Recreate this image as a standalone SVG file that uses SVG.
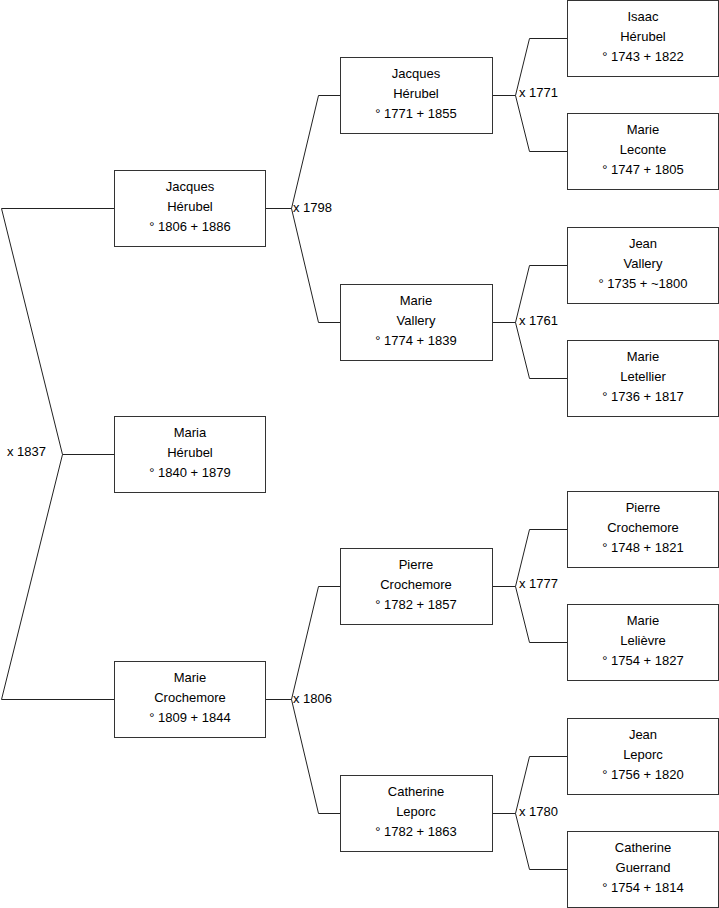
<svg xmlns="http://www.w3.org/2000/svg" width="719" height="908" viewBox="0 0 719 908">
<style>
.box{fill:#fff;stroke:#333;stroke-width:1}
.t{font-family:"Liberation Sans",Arial,sans-serif;font-size:13px;fill:#000;text-anchor:middle}
.lb{font-family:"Liberation Sans",Arial,sans-serif;font-size:13px;fill:#000}
.ln{fill:none;stroke:#222;stroke-width:1}
</style>
<rect width="719" height="908" fill="#fff"/>
<g id="connectors">
<polyline class="ln" points="114.5,208.5 1.5,208.5 62.5,454.5 1.5,699.5 114.5,699.5"/>
<line class="ln" x1="62.5" y1="454.5" x2="114.5" y2="454.5"/>
<text class="lb" x="7" y="456">x 1837</text>
<polyline class="ln" points="340.5,95.5 318.5,95.5 291.5,208.5 318.5,322.5 340.5,322.5"/>
<line class="ln" x1="265.5" y1="208.5" x2="291.5" y2="208.5"/>
<text class="lb" x="293" y="212">x 1798</text>
<polyline class="ln" points="340.5,586.5 318.5,586.5 291.5,699.5 318.5,813.5 340.5,813.5"/>
<line class="ln" x1="265.5" y1="699.5" x2="291.5" y2="699.5"/>
<text class="lb" x="293" y="703">x 1806</text>
<polyline class="ln" points="567.5,38.5 529.5,38.5 515.5,95.5 529.5,151.5 567.5,151.5"/>
<line class="ln" x1="492.5" y1="95.5" x2="515.5" y2="95.5"/>
<text class="lb" x="519" y="97">x 1771</text>
<polyline class="ln" points="567.5,265.5 529.5,265.5 515.5,322.5 529.5,378.5 567.5,378.5"/>
<line class="ln" x1="492.5" y1="322.5" x2="515.5" y2="322.5"/>
<text class="lb" x="519" y="325">x 1761</text>
<polyline class="ln" points="567.5,529.5 529.5,529.5 515.5,586.5 529.5,642.5 567.5,642.5"/>
<line class="ln" x1="492.5" y1="586.5" x2="515.5" y2="586.5"/>
<text class="lb" x="519" y="588">x 1777</text>
<polyline class="ln" points="567.5,756.5 529.5,756.5 515.5,813.5 529.5,869.5 567.5,869.5"/>
<line class="ln" x1="492.5" y1="813.5" x2="515.5" y2="813.5"/>
<text class="lb" x="519" y="816">x 1780</text>
</g>
<g id="n1"><rect class="box" x="114.5" y="170.5" width="151" height="76"/><text class="t" x="190" y="191">Jacques</text><text class="t" x="190" y="211">Hérubel</text><text class="t" x="190" y="231">° 1806 + 1886</text></g>
<g id="n2"><rect class="box" x="114.5" y="416.5" width="151" height="76"/><text class="t" x="190" y="437">Maria</text><text class="t" x="190" y="457">Hérubel</text><text class="t" x="190" y="477">° 1840 + 1879</text></g>
<g id="n3"><rect class="box" x="114.5" y="661.5" width="151" height="76"/><text class="t" x="190" y="682">Marie</text><text class="t" x="190" y="702">Crochemore</text><text class="t" x="190" y="722">° 1809 + 1844</text></g>
<g id="n4"><rect class="box" x="340.5" y="57.5" width="152" height="76"/><text class="t" x="416" y="78">Jacques</text><text class="t" x="416" y="98">Hérubel</text><text class="t" x="416" y="118">° 1771 + 1855</text></g>
<g id="n5"><rect class="box" x="340.5" y="284.5" width="152" height="76"/><text class="t" x="416" y="305">Marie</text><text class="t" x="416" y="325">Vallery</text><text class="t" x="416" y="345">° 1774 + 1839</text></g>
<g id="n6"><rect class="box" x="340.5" y="548.5" width="152" height="76"/><text class="t" x="416" y="569">Pierre</text><text class="t" x="416" y="589">Crochemore</text><text class="t" x="416" y="609">° 1782 + 1857</text></g>
<g id="n7"><rect class="box" x="340.5" y="775.5" width="152" height="76"/><text class="t" x="416" y="796">Catherine</text><text class="t" x="416" y="816">Leporc</text><text class="t" x="416" y="836">° 1782 + 1863</text></g>
<g id="n8"><rect class="box" x="567.5" y="0.5" width="151" height="76"/><text class="t" x="643" y="21">Isaac</text><text class="t" x="643" y="41">Hérubel</text><text class="t" x="643" y="61">° 1743 + 1822</text></g>
<g id="n9"><rect class="box" x="567.5" y="113.5" width="151" height="76"/><text class="t" x="643" y="134">Marie</text><text class="t" x="643" y="154">Leconte</text><text class="t" x="643" y="174">° 1747 + 1805</text></g>
<g id="n10"><rect class="box" x="567.5" y="227.5" width="151" height="76"/><text class="t" x="643" y="248">Jean</text><text class="t" x="643" y="268">Vallery</text><text class="t" x="643" y="288">° 1735 + ~1800</text></g>
<g id="n11"><rect class="box" x="567.5" y="340.5" width="151" height="76"/><text class="t" x="643" y="361">Marie</text><text class="t" x="643" y="381">Letellier</text><text class="t" x="643" y="401">° 1736 + 1817</text></g>
<g id="n12"><rect class="box" x="567.5" y="491.5" width="151" height="76"/><text class="t" x="643" y="512">Pierre</text><text class="t" x="643" y="532">Crochemore</text><text class="t" x="643" y="552">° 1748 + 1821</text></g>
<g id="n13"><rect class="box" x="567.5" y="604.5" width="151" height="76"/><text class="t" x="643" y="625">Marie</text><text class="t" x="643" y="645">Lelièvre</text><text class="t" x="643" y="665">° 1754 + 1827</text></g>
<g id="n14"><rect class="box" x="567.5" y="718.5" width="151" height="76"/><text class="t" x="643" y="739">Jean</text><text class="t" x="643" y="759">Leporc</text><text class="t" x="643" y="779">° 1756 + 1820</text></g>
<g id="n15"><rect class="box" x="567.5" y="831.5" width="151" height="76"/><text class="t" x="643" y="852">Catherine</text><text class="t" x="643" y="872">Guerrand</text><text class="t" x="643" y="892">° 1754 + 1814</text></g>
</svg>
